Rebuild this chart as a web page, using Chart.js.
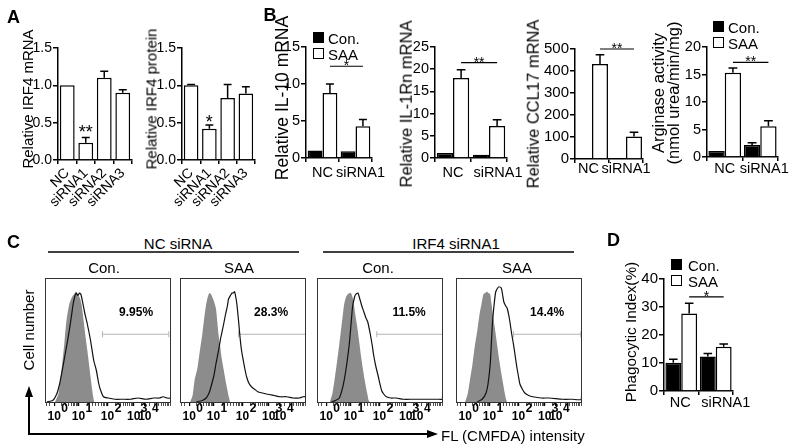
<!DOCTYPE html>
<html>
<head>
<meta charset="utf-8">
<script src="https://cdn.jsdelivr.net/npm/chart.js@4.4.1/dist/chart.umd.min.js"></script>
<style>
  body { margin: 0; width: 800px; height: 448px; position: relative; overflow: hidden; background: #fff;
         font-family: "Liberation Sans", Arial, sans-serif; color: #000; }
  canvas { position: absolute; }
  .t { position: absolute; white-space: nowrap; line-height: 1; transform: translate(-50%, -50%); }
  .r { transform: translate(-50%, -50%) rotate(-90deg); }
  .sw { position: absolute; width: 9px; height: 9px; border: 1.5px solid #000; }
  svg { position: absolute; left: 0; top: 0; }
</style>
</head>
<body>
<svg width="800" height="448">
  <line x1="48" y1="252" x2="299" y2="252" stroke="#000" stroke-width="1.5"/>
  <line x1="323" y1="252" x2="574" y2="252" stroke="#000" stroke-width="1.5"/>
  <polyline points="29,395 29,434 428,434" fill="none" stroke="#000" stroke-width="2"/>
  <polygon points="29,386 25,397 33,397" fill="#000"/>
  <polygon points="438,434 427,430 427,438" fill="#000"/>
</svg>
<script>
// ---- Panel A ----
const aLabels = ['NC', 'siRNA1', 'siRNA2', 'siRNA3'];
const irf4Mrna = [1.0, 0.23, 1.10, 0.90];
const irf4MrnaErr = [0, 0.07, 0.09, 0.04];
const irf4Protein = [1.0, 0.42, 0.83, 0.89];
const irf4ProteinErr = [0.01, 0.05, 0.18, 0.09];

// ---- Panel B / D ----
const groupLabels = ['NC', 'siRNA1'];
const il10Con = [1.0, 0.9];
const il10Saa = [8.8, 4.3];
const il10SaaErr = [1.2, 0.9];
const il1rnCon = [1.1, 0.75];
const il1rnSaa = [18.0, 7.2];
const il1rnSaaErr = [1.9, 1.4];
const ccl17Con = [1.5, 1.0];
const ccl17Saa = [432, 102];
const ccl17SaaErr = [42, 20];
const argCon = [1.1, 2.2];
const argConErr = [0, 0.4];
const argSaa = [15.3, 5.6];
const argSaaErr = [0.9, 1.0];
const phagoCon = [10.1, 12.3];
const phagoConErr = [1.2, 1.1];
const phagoSaa = [27.7, 15.8];
const phagoSaaErr = [3.6, 1.0];

// ---- Panel C (channel, % of max) ----
const ncConShaded = [[10,0],[14,8],[17,26],[20,48],[22,65],[25,79],[28,85],[30,87],[32,89],[33.7,87],[36,84],[37.7,79],[40,65],[42,52],[43.7,42],[47,21],[49.7,5],[51,0]];
const ncConLine = [[2,1],[8,2],[12,7],[15,15],[18,27],[21,40],[24,53],[27,68],[29,79],[31,86],[32,88],[34,86],[35.5,88],[37,87],[39,80],[41,72],[43.7,63],[47,50],[50.3,34],[53,26],[55.3,16],[57,11],[60.3,5],[65,4],[72,3],[80,3],[88,3],[96,4],[104,3],[112,4],[118,4],[122,5],[126,4],[129.3,4],[129.8,9]];
const ncSaaShaded = [[10,0],[13,6],[15,18],[18,28],[20,39],[23,55],[25,68],[27,79],[28.7,85],[30.3,88],[32,87],[34.3,83],[37,76],[38.5,65],[39.7,55],[41.5,45],[43,36],[45,27],[47,18],[49,10],[50.3,5],[52,0]];
const ncSaaLine = [[17,1],[23,2],[27,4],[30,8],[32,13],[35,22],[37,31],[40,43],[42,52],[45,63],[47,71],[49,78],[50,83],[52,86],[53.7,88],[55,88],[56.3,89],[57.5,85],[58.7,79],[60.5,65],[62,52],[63.5,42],[65.3,34],[67,27],[68.7,21],[71,16],[73.7,13],[77,11],[80.3,9],[85,8],[90.3,7],[97,6],[103.7,5],[110,5],[117,4],[123,4],[127,5],[129.8,5]];
const siConShaded = [[13,0],[16,8],[18,18],[20.5,32],[23,47],[25.5,63],[28,79],[30,85],[31.7,87],[33.5,88],[35,88],[36.5,85],[37.7,81],[39.7,70],[41.7,60],[43.7,48],[45.7,36],[48,24],[50,15],[52,7],[53.3,2],[55,0]];
const siConLine = [[15,1],[19,2],[23,4],[26,11],[28,18],[30.5,30],[33.3,47],[35,62],[36.7,77],[38.5,84],[40,87],[42.3,88],[43.5,85],[45,81],[46.5,77],[48.3,73],[50.5,68],[52.3,65],[55,55],[57,46],[58.3,39],[60.5,30],[63.3,21],[65,15],[66.7,10],[69,7],[71.7,5],[76,4],[81.7,4],[89,3],[99,3],[109,3],[119,3],[126,3],[129.3,3],[129.8,24]];
const siSaaShaded = [[9,0],[12,7],[14.3,18],[17,31],[19.3,45],[22,58],[24.3,71],[26.5,80],[28.3,87],[30,88],[32,89],[33.5,88],[35.3,87],[36.5,80],[37.7,73],[39.5,63],[41,55],[42.7,45],[44.3,36],[46.5,25],[48.7,15],[50.5,7],[52,2],[53,0]];
const siSaaLine = [[22,1],[27,3],[31,8],[33,15],[35.3,31],[36.5,48],[37.7,65],[39.5,80],[41,89],[43,92],[44.3,93],[46.7,92],[48,87],[49.3,81],[51,78],[52.7,76],[54.5,70],[56,63],[57.5,55],[59.3,47],[61,38],[62.7,29],[64.3,22],[66,15],[68.5,11],[71,8],[75,6],[79.3,5],[88,4],[96,4],[110,3],[120,3],[129.3,3],[129.8,22]];
const gateRanges = [[59.3, 127.7], [60.3, 130], [61.7, 130], [59.3, 128.7]];
const gateLevel = 55;
const percentLabels = ['9.95%', '28.3%', '11.5%', '14.4%'];
const percentX = [94, 94, 95, 94];
const flowMajor = [9.5, 34.5, 64.5, 91.5, 103];
const flowExp = ['0', '1', '2', '3', '4'];
const flowMinor = [2, 5, 17, 21.4, 24.6, 27, 29, 30.6, 32.1, 33.4, 43.5, 48.8, 52.6, 55.5, 57.8, 59.9, 61.6, 63.1,
                   72.6, 77.4, 80.8, 83.4, 85.5, 87.3, 88.9, 90.3, 99.6, 108, 113, 117.2, 120, 122.5, 124.5, 126.3, 127.9, 129.4];

const FONT = '"Liberation Sans", Arial, sans-serif';
Chart.defaults.font.family = FONT;
Chart.defaults.color = '#000';

// 文字
function txt(s, x, y, size, extra) {
  const d = document.createElement('div');
  d.className = 't' + (extra && extra.rot ? ' r' : '');
  d.textContent = s;
  d.style.left = x + 'px';
  d.style.top = y + 'px';
  d.style.fontSize = size + 'px';
  if (extra && extra.bold) d.style.fontWeight = 'bold';
  document.body.appendChild(d);
}

function legend(x, y, step, tx) {
  [['Con.', '#000'], ['SAA', '#fff']].forEach((it, i) => {
    const b = document.createElement('div');
    b.className = 'sw';
    b.style.left = x + 'px';
    b.style.top = (y + i * step) + 'px';
    b.style.background = it[1];
    document.body.appendChild(b);
    const d = document.createElement('div');
    d.className = 't';
    d.style.transform = 'translate(0,-50%)';
    d.style.left = tx + 'px';
    d.style.top = (y + i * step + 6) + 'px';
    d.style.fontSize = '15px';
    d.textContent = it[0];
    document.body.appendChild(d);
  });
}

// 誤差線、顯著性標記、分組標籤
const marksPlugin = {
  id: 'marks',
  afterDatasetsDraw(chart, args, opts) {
    const ctx = chart.ctx;
    const y = chart.scales.y, x = chart.scales.x;
    ctx.save();
    ctx.strokeStyle = '#000';
    ctx.fillStyle = '#000';
    ctx.lineWidth = 1.5;
    (opts.errors || []).forEach((errs, di) => {
      if (!errs) return;
      chart.getDatasetMeta(di).data.forEach((bar, i) => {
        const e = errs[i];
        if (!e) return;
        const v = chart.data.datasets[di].data[i];
        const y0 = y.getPixelForValue(v);
        const y1 = y.getPixelForValue(v + e);
        const hw = bar.width * 0.27;
        ctx.beginPath();
        ctx.moveTo(bar.x, y0); ctx.lineTo(bar.x, y1);
        ctx.moveTo(bar.x - hw, y1); ctx.lineTo(bar.x + hw, y1);
        ctx.stroke();
      });
    });
    (opts.sig || []).forEach(s => {
      const m0 = chart.getDatasetMeta(s.from[0]).data[s.from[1]];
      const py = y.getPixelForValue(s.value);
      let xc = m0.x, cy = py;
      if (s.to) {
        const m1 = chart.getDatasetMeta(s.to[0]).data[s.to[1]];
        ctx.lineWidth = 1.2;
        ctx.beginPath(); ctx.moveTo(m0.x, py); ctx.lineTo(m1.x, py); ctx.stroke();
        xc = (m0.x + m1.x) / 2;
        cy = py - s.gap;
      }
      ctx.font = s.size + 'px ' + FONT;
      ctx.textAlign = 'center';
      ctx.textBaseline = 'alphabetic';
      ctx.fillText(s.text, xc, cy + 0.57 * s.size);
    });
    if (opts.catShift) {
      ctx.font = opts.catFont + 'px ' + FONT;
      ctx.textAlign = 'center';
      ctx.textBaseline = 'middle';
      chart.data.labels.forEach((lab, i) => {
        ctx.fillText(lab, x.getPixelForTick(i) + opts.catShift[i], y.bottom + opts.catDy);
      });
    }
    ctx.restore();
  }
};

function barChart(o) {
  const cv = document.createElement('canvas');
  cv.width = o.padL + (o.xEnd - o.axisX) + o.padR;
  cv.height = o.padT + (o.yBottom - o.yTop) + o.padB;
  cv.style.left = (o.axisX - o.padL) + 'px';
  cv.style.top = (o.yTop - o.padT) + 'px';
  document.body.appendChild(cv);
  return new Chart(cv, {
    type: 'bar',
    data: { labels: o.labels, datasets: o.datasets },
    options: {
      responsive: false,
      animation: false,
      devicePixelRatio: 1,
      layout: { padding: { top: o.padT, right: o.padR, left: 0, bottom: 0 } },
      plugins: {
        legend: { display: false },
        tooltip: { enabled: false },
        marks: { errors: o.errors, sig: o.sig, catShift: o.catShift, catDy: o.catDy, catFont: o.xFont }
      },
      datasets: { bar: { categoryPercentage: o.catPct, barPercentage: o.barPct, borderColor: '#000', borderWidth: 1.5 } },
      scales: {
        x: {
          grid: { drawOnChartArea: false, color: '#000', tickLength: 4, lineWidth: 1.5 },
          border: { color: '#000', width: 1.5 },
          ticks: { display: !o.catShift, color: '#000', font: { size: o.xFont }, padding: o.xPad || 0, autoSkip: false,
                   minRotation: o.rot || 0, maxRotation: o.rot || 0 },
          afterFit: s => { s.height = o.padB; }
        },
        y: {
          min: 0, max: o.max,
          ticks: { stepSize: o.step, color: '#000', font: { size: o.yFont }, padding: 1, callback: o.fmt },
          grid: { drawOnChartArea: false, color: '#000', tickLength: 5, lineWidth: 1.5 },
          border: { color: '#000', width: 1.5 },
          afterFit: s => { s.width = o.padL; }
        }
      }
    },
    plugins: [marksPlugin]
  });
}

function pair(con, saa) {
  return [
    { label: 'Con.', data: con, backgroundColor: '#000', borderColor: '#000' },
    { label: 'SAA', data: saa, backgroundColor: '#fff', borderColor: '#000' }
  ];
}

// A
barChart({ axisX: 58, yTop: 48, yBottom: 160, xEnd: 132, padL: 30, padT: 14, padR: 14, padB: 47,
  labels: aLabels, datasets: [{ data: irf4Mrna, backgroundColor: '#fff' }], errors: [irf4MrnaErr],
  catPct: 1, barPct: 0.8, max: 1.5, step: 0.5, fmt: v => v.toFixed(1), rot: 45, xFont: 14, xPad: 1, yFont: 14,
  sig: [{ from: [0, 1], value: 0.43, text: '**', size: 18 }] });
barChart({ axisX: 182, yTop: 48, yBottom: 160, xEnd: 255, padL: 30, padT: 14, padR: 14, padB: 47,
  labels: aLabels, datasets: [{ data: irf4Protein, backgroundColor: '#fff' }], errors: [irf4ProteinErr],
  catPct: 1, barPct: 0.8, max: 1.5, step: 0.5, fmt: v => v.toFixed(1), rot: 45, xFont: 14, xPad: 1, yFont: 14,
  sig: [{ from: [0, 1], value: 0.56, text: '*', size: 18 }] });

// B
barChart({ axisX: 306, yTop: 47, yBottom: 158, xEnd: 372, padL: 25, padT: 20, padR: 30, padB: 30,
  labels: groupLabels, datasets: pair(il10Con, il10Saa), errors: [null, il10SaaErr],
  catPct: 0.9, barPct: 1, max: 15, step: 5, xFont: 14.5, yFont: 14.5, catShift: [0, 5], catDy: 15,
  sig: [{ from: [1, 0], to: [1, 1], value: 12.4, text: '*', size: 14, gap: 4 }] });
barChart({ axisX: 435, yTop: 47, yBottom: 158, xEnd: 507, padL: 25, padT: 20, padR: 30, padB: 30,
  labels: groupLabels, datasets: pair(il1rnCon, il1rnSaa), errors: [null, il1rnSaaErr],
  catPct: 0.9, barPct: 1, max: 25, step: 5, xFont: 14.5, yFont: 14.5, catShift: [0, 9], catDy: 15,
  sig: [{ from: [1, 0], to: [1, 1], value: 21.5, text: '**', size: 14, gap: 4 }] });
barChart({ axisX: 575, yTop: 49, yBottom: 159, xEnd: 643, padL: 34, padT: 20, padR: 30, padB: 30,
  labels: groupLabels, datasets: pair(ccl17Con, ccl17Saa), errors: [null, ccl17SaaErr],
  catPct: 0.94, barPct: 1, max: 500, step: 100, xFont: 14.5, yFont: 15, catShift: [-3.5, 0], catDy: 10,
  sig: [{ from: [1, 0], to: [1, 1], value: 500, text: '**', size: 14, gap: 4 }] });
barChart({ axisX: 707, yTop: 47, yBottom: 157, xEnd: 778, padL: 25, padT: 20, padR: 22, padB: 30,
  labels: groupLabels, datasets: pair(argCon, argSaa), errors: [argConErr, argSaaErr],
  catPct: 0.92, barPct: 1, max: 20, step: 5, xFont: 14.5, yFont: 14.5, catShift: [0, 4], catDy: 12,
  sig: [{ from: [1, 0], to: [1, 1], value: 17.2, text: '**', size: 14, gap: 4 }] });

// D
barChart({ axisX: 664, yTop: 279, yBottom: 391, xEnd: 733, padL: 25, padT: 20, padR: 40, padB: 30,
  labels: groupLabels, datasets: pair(phagoCon, phagoSaa), errors: [phagoConErr, phagoSaaErr],
  catPct: 0.92, barPct: 1, max: 40, step: 10, xFont: 14.5, yFont: 15, catShift: [-1, 10], catDy: 12,
  sig: [{ from: [1, 0], to: [1, 1], value: 33.6, text: '*', size: 14, gap: 4 }] });

// C 流式直方圖
const flowPlugin = {
  id: 'flow',
  afterDraw(chart, args, opts) {
    const ctx = chart.ctx, a = chart.chartArea, x = chart.scales.x, y = chart.scales.y;
    ctx.save();
    ctx.strokeStyle = '#333';
    ctx.lineWidth = 1;
    ctx.strokeRect(a.left + 0.5, a.top + 0.5, a.right - a.left - 1, a.bottom - a.top - 1);
    ctx.fillStyle = '#000';
    ctx.textAlign = 'center';
    ctx.textBaseline = 'middle';
    ctx.font = 'bold 12px ' + FONT;
    flowMajor.forEach((v, i) => {
      const px = x.getPixelForValue(v);
      ctx.fillText('10', px, a.bottom + 14);
      ctx.fillText(flowExp[i], px + 10.5, a.bottom + 6);
    });
    ctx.fillText(opts.pct, x.getPixelForValue(opts.pctX), y.getPixelForValue(72));
    ctx.restore();
  }
};

const xy = arr => arr.map(p => ({ x: p[0], y: p[1] }));

function flowChart(o) {
  const padL = 3, padT = 3, padR = 3, padB = 28;
  const cv = document.createElement('canvas');
  cv.width = o.w + padL + padR;
  cv.height = o.h + padT + padB;
  cv.style.left = (o.left - padL) + 'px';
  cv.style.top = (o.top - padT) + 'px';
  document.body.appendChild(cv);
  const allTicks = flowMajor.concat(flowMinor).sort((p, q) => p - q);
  new Chart(cv, {
    type: 'scatter',
    data: {
      datasets: [
        { data: xy(o.line), showLine: true, borderColor: '#111', borderWidth: 1.2, pointRadius: 0,
          fill: false, tension: 0.2, order: 0 },
        { data: xy([[o.gate[0], gateLevel], [o.gate[1], gateLevel]]), showLine: true, borderColor: '#b4b4b4',
          borderWidth: 1, pointStyle: 'line', rotation: 90, pointRadius: 3, pointBorderColor: '#b4b4b4',
          pointBorderWidth: 1, order: 1 },
        { data: xy(o.shaded), showLine: true, borderWidth: 0, borderColor: 'rgba(0,0,0,0)', backgroundColor: '#8c8c8c',
          fill: 'origin', pointRadius: 0, tension: 0.2, order: 2 }
      ]
    },
    options: {
      responsive: false,
      animation: false,
      devicePixelRatio: 1,
      layout: { padding: { left: padL, top: padT, right: padR, bottom: 0 } },
      plugins: { legend: { display: false }, tooltip: { enabled: false }, flow: { pct: o.pct, pctX: o.pctX } },
      scales: {
        x: {
          type: 'linear', min: 0, max: 130,
          afterBuildTicks: s => { s.ticks = allTicks.map(v => ({ value: v })); },
          ticks: { display: false },
          grid: { drawOnChartArea: false, tickLength: 3, color: '#000',
                  lineWidth: c => flowMajor.includes(c.tick && c.tick.value) ? 1.2 : 0.7 },
          border: { display: false },
          afterFit: s => { s.height = padB; }
        },
        y: { display: false, min: 0, max: 100 }
      }
    },
    plugins: [flowPlugin]
  });
}

const boxLefts = [43, 178, 315, 454];
const shadedSets = [ncConShaded, ncSaaShaded, siConShaded, siSaaShaded];
const lineSets = [ncConLine, ncSaaLine, siConLine, siSaaLine];
boxLefts.forEach((l, i) => flowChart({ left: l, top: 276, w: 130, h: 127, shaded: shadedSets[i], line: lineSets[i],
  gate: gateRanges[i], pct: percentLabels[i], pctX: percentX[i] }));

// 軸標題
txt('Relative IRF4 mRNA', 27, 99, 15, { rot: true });
txt('Relative IRF4 protein', 151, 99, 15, { rot: true });
txt('Relative IL-10 mRNA', 283, 98, 17.5, { rot: true });
txt('Relative IL-1Rn mRNA', 406, 104, 16.5, { rot: true });
txt('Relative CCL17 mRNA', 533, 104, 16.5, { rot: true });
txt('Arginase activity', 658, 93, 16.5, { rot: true });
txt('(nmol urea/min/mg)', 673, 93, 16.5, { rot: true });
txt('Phagocytic Index(%)', 631, 332, 15.3, { rot: true });

// 其他文字
txt('A', 13.5, 16.5, 18, { bold: true });
txt('B', 270, 15, 18, { bold: true });
txt('C', 13.5, 241.5, 18, { bold: true });
txt('D', 613.5, 240, 18, { bold: true });
legend(313, 32, 16, 328);
legend(713, 21, 16, 728);
legend(671, 259, 16, 688);
txt('NC siRNA', 178, 243, 15);
txt('IRF4 siRNA1', 456, 243, 15);
txt('Con.', 104, 267, 15);
txt('SAA', 239, 267, 15);
txt('Con.', 378, 267, 15);
txt('SAA', 517, 267, 15);
txt('Cell number', 28, 330, 15, { rot: true });
const fl = document.createElement('div');
fl.className = 't';
fl.style.transform = 'translate(0,-50%)';
fl.style.left = '441px';
fl.style.top = '435px';
fl.style.fontSize = '15px';
fl.textContent = 'FL (CMFDA) intensity';
document.body.appendChild(fl);
</script>
</body>
</html>
